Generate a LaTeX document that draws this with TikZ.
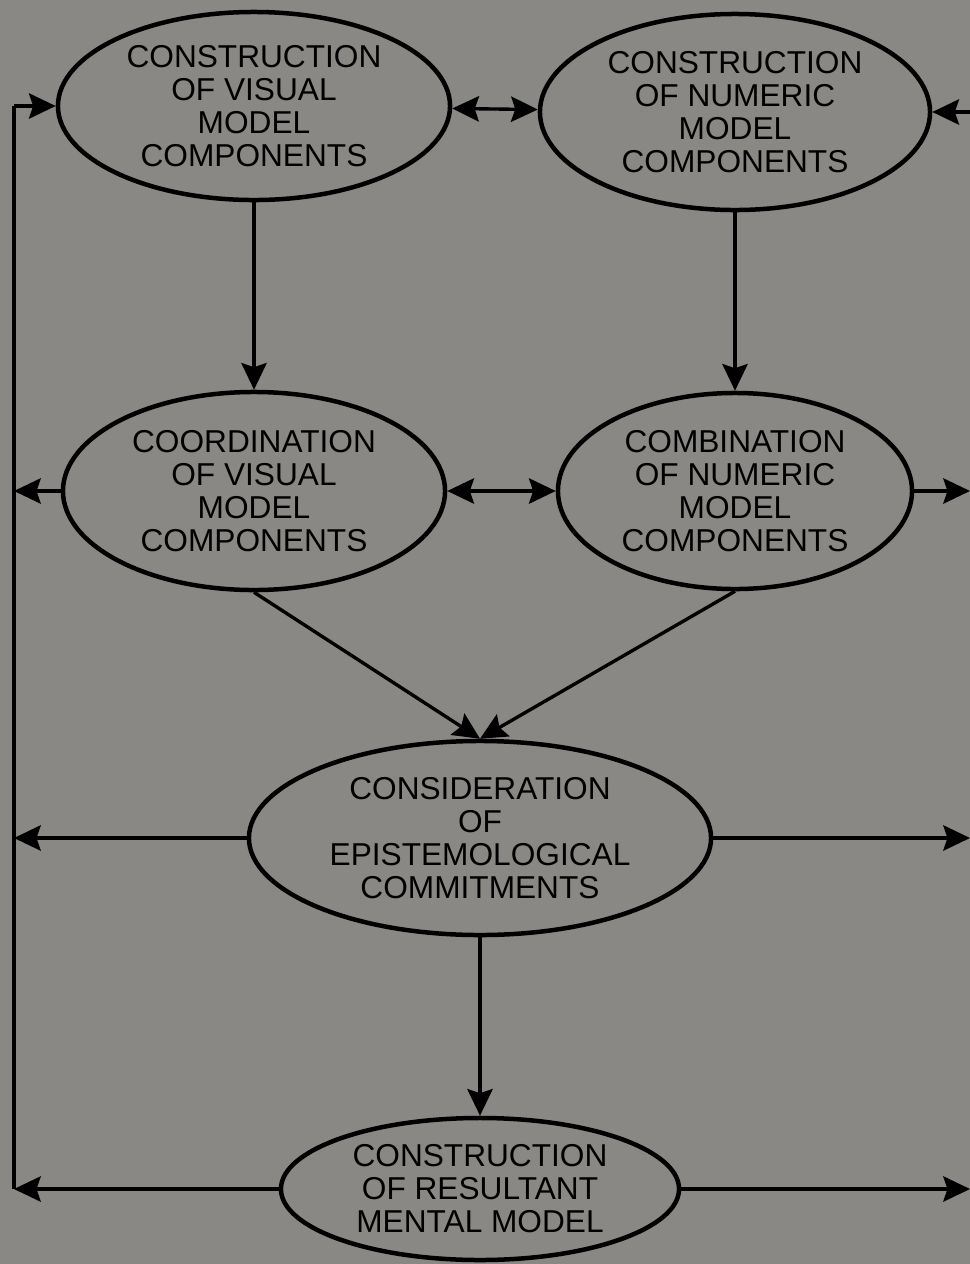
\documentclass[tikz,border=0pt]{standalone}
\usepackage{fontspec}
\setmainfont{Liberation Sans}
\usetikzlibrary{shapes,arrows.meta,positioning,calc}

\definecolor{paper}{RGB}{138,136,132}

\tikzset{
  stage/.style={ellipse, draw=black, line width=3.2pt, fill=paper, align=center,
    inner sep=0pt, font=\fontsize{22.5}{23.5}\selectfont},
  flow/.style={line width=2.4pt, -{Stealth[length=19pt,width=18pt,inset=3pt]}},
  twoway/.style={line width=2.4pt, {Stealth[length=19pt,width=18pt,inset=3pt]}-{Stealth[length=19pt,width=18pt,inset=3pt]}},
  bus/.style={line width=2.4pt}
}

\begin{document}
\begin{tikzpicture}[x=0.025cm, y=-0.025cm]

% background and frame of the picture
\fill[paper] (0,0) rectangle (970,1264);
\useasboundingbox (0,0) rectangle (970,1264);

% ================= STAGES =================
\node[stage, minimum width=9.8cm, minimum height=4.7cm] (visCon) at (254,106)
  {CONSTRUCTION\\OF VISUAL\\MODEL\\COMPONENTS};
\node[stage, minimum width=9.75cm, minimum height=4.9cm] (numCon) at (735,112)
  {CONSTRUCTION\\OF NUMERIC\\MODEL\\COMPONENTS};
\node[stage, minimum width=9.55cm, minimum height=4.95cm] (visCoord) at (254,491)
  {COORDINATION\\OF VISUAL\\MODEL\\COMPONENTS};
\node[stage, minimum width=8.85cm, minimum height=4.9cm] (numComb) at (735,491)
  {COMBINATION\\OF NUMERIC\\MODEL\\COMPONENTS};
\node[stage, minimum width=11.55cm, minimum height=4.85cm] (epist) at (480,838)
  {CONSIDERATION\\OF\\EPISTEMOLOGICAL\\COMMITMENTS};
\node[stage, minimum width=9.95cm, minimum height=3.55cm] (result) at (480,1189)
  {CONSTRUCTION\\OF RESULTANT\\MENTAL MODEL};

% bus lines at the sides
\coordinate (lbus) at (14,0);
\coordinate (rbus) at (970,0);

% ================= MAIN FLOW =================
\draw[twoway] (visCon) -- (numCon);
\draw[twoway] (visCoord) -- (numComb);
\draw[flow] (visCon) -- (visCoord);
\draw[flow] (numCon) -- (numComb);
\draw[flow] (visCoord.south) -- (epist.north);
\draw[flow] (numComb.south) -- (epist.north);
\draw[flow] (epist) -- (result);

% ================= LEFT FEEDBACK =================
\draw[bus] (result.west -| lbus) -- (visCon.west -| lbus);
\draw[flow] (visCon.west -| lbus) -- (visCon.west);
\draw[flow] (visCoord.west) -- (visCoord.west -| lbus);
\draw[flow] (epist.west) -- (epist.west -| lbus);
\draw[flow] (result.west) -- (result.west -| lbus);

% ================= RIGHT SIDE =================
\draw[flow] (numCon.east -| rbus) -- (numCon.east);
\draw[flow] (numComb.east) -- (numComb.east -| rbus);
\draw[flow] (epist.east) -- (epist.east -| rbus);
\draw[flow] (result.east) -- (result.east -| rbus);

\end{tikzpicture}
\end{document}
